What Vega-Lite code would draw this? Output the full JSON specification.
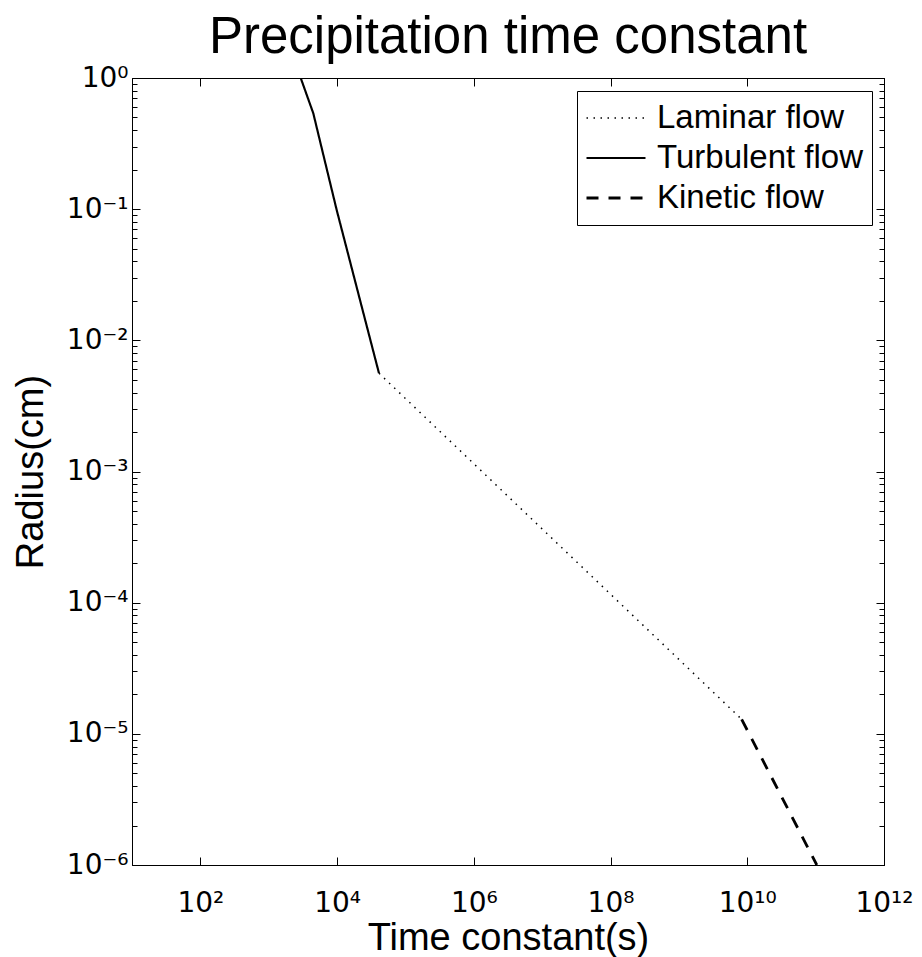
{
  "$schema": "https://vega.github.io/schema/vega-lite/v6.json",
  "width": 752,
  "height": 787,
  "autosize": {"type": "none"},
  "padding": {"left": 132, "top": 78, "right": 38, "bottom": 92},
  "background": "white",
  "config": {
    "font": "Liberation Sans",
    "view": {"stroke": "black", "strokeWidth": 1},
    "axis": {"domainColor": "black", "tickColor": "black", "labelColor": "black", "titleColor": "black", "grid": false, "labelFlush": false, "labelOverlap": false, "labelFont": "DejaVu Sans"}
  },
  "title": {"text": "Precipitation time constant", "fontSize": 51, "fontWeight": "normal", "color": "black", "anchor": "middle", "baseline": "alphabetic", "offset": 22, "dy": 62, "font": "Liberation Sans"},
  "data": {
    "values": [
      {"flow": "Turbulent flow", "t": 2938, "r": 1.0},
      {"flow": "Turbulent flow", "t": 4487, "r": 0.538},
      {"flow": "Turbulent flow", "t": 5309, "r": 0.374},
      {"flow": "Turbulent flow", "t": 9862, "r": 0.0986},
      {"flow": "Turbulent flow", "t": 21630, "r": 0.0203},
      {"flow": "Turbulent flow", "t": 41020, "r": 0.00561},
      {"flow": "Laminar flow", "t": 41020, "r": 0.00561},
      {"flow": "Laminar flow", "t": 8.28e9, "r": 1.29e-5},
      {"flow": "Kinetic flow", "t": 8.28e9, "r": 1.29e-5},
      {"flow": "Kinetic flow", "t": 1.04e11, "r": 1.0e-6}
    ]
  },
  "layer": [
    {
      "mark": {"type": "line", "color": "black", "clip": true},
      "encoding": {
        "x": {
          "field": "t", "type": "quantitative",
          "scale": {"type": "log", "domain": [10, 1e12], "nice": false},
          "axis": {
            "orient": "bottom",
            "values": [100, 1e4, 1e6, 1e8, 1e10, 1e12],
            "tickSize": -8, "tickWidth": 1,
            "labelFontSize": 28, "labelBaseline": "alphabetic", "labelAlign": "center", "labelPadding": 54,
            "labelExpr": "'10' + ['⁰','¹','²','³','⁴','⁵','⁶','⁷','⁸','⁹','¹⁰','¹¹','¹²'][round(log(datum.value)/LN10)]",
            "title": "Time constant(s)", "titleFontSize": 38, "titleFontWeight": "normal", "titleBaseline": "alphabetic", "titleY": 84
          }
        },
        "y": {
          "field": "r", "type": "quantitative",
          "scale": {"type": "log", "domain": [1e-6, 1], "nice": false},
          "axis": {
            "orient": "left",
            "values": [1e-6, 2e-6, 3e-6, 4e-6, 5e-6, 6e-6, 7e-6, 8e-6, 9e-6, 1e-5, 2e-5, 3e-5, 4e-5, 5e-5, 6e-5, 7e-5, 8e-5, 9e-5, 1e-4, 2e-4, 3e-4, 4e-4, 5e-4, 6e-4, 7e-4, 8e-4, 9e-4, 1e-3, 2e-3, 3e-3, 4e-3, 5e-3, 6e-3, 7e-3, 8e-3, 9e-3, 0.01, 0.02, 0.03, 0.04, 0.05, 0.06, 0.07, 0.08, 0.09, 0.1, 0.2, 0.3, 0.4, 0.5, 0.6, 0.7, 0.8, 0.9, 1],
            "tickSize": {"condition": {"test": "abs(log(datum.value)/LN10 - round(log(datum.value)/LN10)) < 0.001", "value": -8}, "value": -5},
            "tickWidth": 1,
            "labelFontSize": 28, "labelAlign": "right", "labelBaseline": "middle", "labelPadding": 12,
            "labelExpr": "abs(log(datum.value)/LN10 - round(log(datum.value)/LN10)) < 0.001 ? '10' + (round(log(datum.value)/LN10) < 0 ? '⁻' : '') + ['⁰','¹','²','³','⁴','⁵','⁶'][abs(round(log(datum.value)/LN10))] : ''",
            "title": "Radius(cm)", "titleFontSize": 38, "titleFontWeight": "normal", "titleBaseline": "alphabetic", "titleX": -90
          }
        },
        "strokeDash": {
          "field": "flow", "type": "nominal",
          "scale": {"domain": ["Laminar flow", "Turbulent flow", "Kinetic flow"], "range": [[1.5, 5.5], [1, 0], [12, 10]]},
          "legend": {
            "orient": "none", "legendX": 445, "legendY": 13, "title": null,
            "labelFontSize": 33, "labelColor": "black", "labelOffset": 10, "labelLimit": 400,
            "strokeColor": "black", "fillColor": "white", "padding": 8,
            "symbolType": "stroke", "symbolSize": 3481, "symbolStrokeColor": "black",
            "clipHeight": 38, "rowPadding": 2
          }
        },
        "strokeWidth": {
          "field": "flow", "type": "nominal",
          "scale": {"domain": ["Laminar flow", "Turbulent flow", "Kinetic flow"], "range": [1.5, 2.8, 2.4]},
          "legend": {
            "orient": "none", "legendX": 445, "legendY": 13, "title": null,
            "labelFontSize": 33, "labelColor": "black", "labelOffset": 10, "labelLimit": 400,
            "strokeColor": "black", "fillColor": "white", "padding": 8,
            "symbolType": "stroke", "symbolSize": 3481, "symbolStrokeColor": "black",
            "clipHeight": 38, "rowPadding": 2
          }
        }
      }
    },
    {
      "mark": {"type": "line", "opacity": 0},
      "encoding": {
        "x": {
          "field": "t", "type": "quantitative",
          "axis": {"orient": "top", "values": [100, 1e4, 1e6, 1e8, 1e10, 1e12], "tickSize": -8, "tickWidth": 1, "labels": false, "title": null}
        },
        "y": {
          "field": "r", "type": "quantitative",
          "axis": {
            "orient": "right",
            "values": [1e-6, 2e-6, 3e-6, 4e-6, 5e-6, 6e-6, 7e-6, 8e-6, 9e-6, 1e-5, 2e-5, 3e-5, 4e-5, 5e-5, 6e-5, 7e-5, 8e-5, 9e-5, 1e-4, 2e-4, 3e-4, 4e-4, 5e-4, 6e-4, 7e-4, 8e-4, 9e-4, 1e-3, 2e-3, 3e-3, 4e-3, 5e-3, 6e-3, 7e-3, 8e-3, 9e-3, 0.01, 0.02, 0.03, 0.04, 0.05, 0.06, 0.07, 0.08, 0.09, 0.1, 0.2, 0.3, 0.4, 0.5, 0.6, 0.7, 0.8, 0.9, 1],
            "tickSize": {"condition": {"test": "abs(log(datum.value)/LN10 - round(log(datum.value)/LN10)) < 0.001", "value": -8}, "value": -5},
            "tickWidth": 1, "labels": false, "title": null
          }
        }
      }
    }
  ],
  "resolve": {"axis": {"x": "independent", "y": "independent"}}
}
